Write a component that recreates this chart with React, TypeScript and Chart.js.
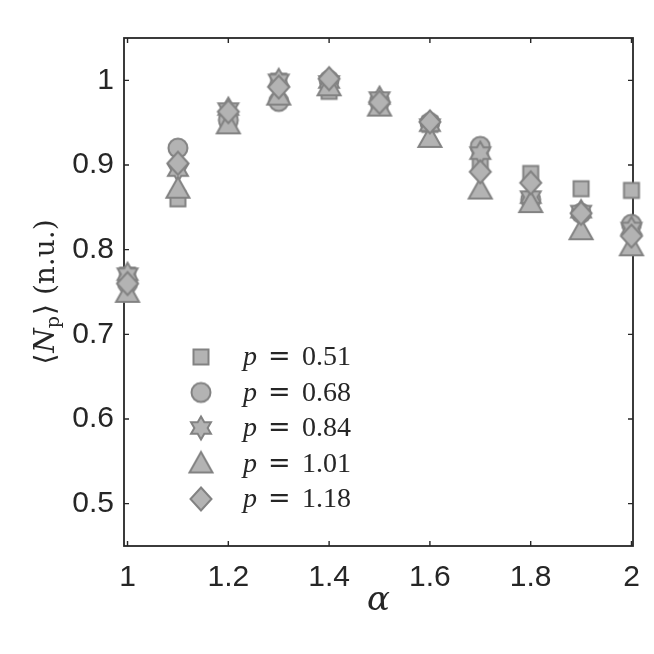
import React, { useEffect, useRef } from 'react';
import { Chart, registerables } from 'chart.js';

Chart.register(...registerables);

// ---- data ----
const alpha = [1.0, 1.1, 1.2, 1.3, 1.4, 1.5, 1.6, 1.7, 1.8, 1.9, 2.0];
const seriesLabels = ['0.51', '0.68', '0.84', '1.01', '1.18'];
const p051 = [0.770, 0.860, 0.955, 0.999, 0.987, 0.975, 0.948, 0.905, 0.890, 0.872, 0.870];
const p068 = [0.760, 0.920, 0.953, 0.975, 1.000, 0.975, 0.950, 0.922, 0.859, 0.843, 0.830];
const p084 = [0.771, 0.894, 0.966, 1.000, 0.998, 0.979, 0.947, 0.914, 0.862, 0.845, 0.825];
const p101 = [0.749, 0.872, 0.948, 0.982, 0.993, 0.969, 0.932, 0.871, 0.855, 0.823, 0.804];
const p118 = [0.760, 0.902, 0.963, 0.992, 1.002, 0.974, 0.951, 0.892, 0.879, 0.843, 0.816];
const markerKinds = ['square', 'circle', 'hexagram', 'triangle', 'diamond'];
const xTicks = [1, 1.2, 1.4, 1.6, 1.8, 2];
const xTickLabels = ['1', '1.2', '1.4', '1.6', '1.8', '2'];
const yTicks = [0.5, 0.6, 0.7, 0.8, 0.9, 1.0];
const yTickLabels = ['0.5', '0.6', '0.7', '0.8', '0.9', '1'];

const FILL = '#b3b3b3';
const EDGE = '#828282';
const AXIS = '#262626';
const TICK_FONT = '"Liberation Sans", Arial, sans-serif';
const SERIF = '"Liberation Serif", "DejaVu Serif", serif';
const WIDE_SERIF = '"DejaVu Serif", serif';

function makeMarker(kind: string): HTMLCanvasElement {
  const c = document.createElement('canvas');
  c.width = 32;
  c.height = 32;
  const ctx = c.getContext('2d')!;
  ctx.translate(16, 16);
  ctx.beginPath();
  if (kind === 'square') {
    ctx.rect(-7.5, -7.5, 15, 15);
  } else if (kind === 'circle') {
    ctx.arc(0, 0, 9.5, 0, Math.PI * 2);
  } else if (kind === 'hexagram') {
    const R = 11.5;
    const r = R / Math.sqrt(3);
    for (let i = 0; i < 12; i++) {
      const a = -Math.PI / 2 + (i * Math.PI) / 6;
      const rr = i % 2 === 0 ? R : r;
      const px = Math.cos(a) * rr;
      const py = Math.sin(a) * rr;
      if (i === 0) ctx.moveTo(px, py);
      else ctx.lineTo(px, py);
    }
    ctx.closePath();
  } else if (kind === 'triangle') {
    ctx.moveTo(0, -11.5);
    ctx.lineTo(11.5, 9);
    ctx.lineTo(-11.5, 9);
    ctx.closePath();
  } else if (kind === 'diamond') {
    ctx.moveTo(0, -11.5);
    ctx.lineTo(10.5, 0);
    ctx.lineTo(0, 11.5);
    ctx.lineTo(-10.5, 0);
    ctx.closePath();
  }
  ctx.fillStyle = FILL;
  ctx.fill();
  ctx.lineWidth = 2;
  ctx.strokeStyle = EDGE;
  ctx.lineJoin = 'miter';
  ctx.stroke();
  return c;
}

export default function App() {
  const ref = useRef<HTMLCanvasElement | null>(null);

  useEffect(() => {
    document.body.style.margin = '0';
    const canvas = ref.current!;
    const markers = markerKinds.map(makeMarker);
    const allSeries = [p051, p068, p084, p101, p118];

    const datasets = allSeries.map((vals, i) => ({
      label: 'p = ' + seriesLabels[i],
      data: alpha.map((x, j) => ({ x, y: vals[j] })),
      pointStyle: markers[i] as any,
      pointRadius: 12,
      showLine: false,
      order: allSeries.length - i,
      clip: false as any,
    }));

    const framePlugin = {
      id: 'frame',
      beforeDatasetsDraw(chart: any) {
        const { ctx, chartArea } = chart;
        const { left, top, right, bottom } = chartArea;
        const xs = chart.scales.x;
        const ys = chart.scales.y;
        ctx.save();
        ctx.strokeStyle = AXIS;
        ctx.lineWidth = 1.8;
        ctx.strokeRect(left, top, right - left, bottom - top);
        ctx.lineWidth = 1.4;
        ctx.beginPath();
        const tl = 5;
        xTicks.forEach((v) => {
          const px = xs.getPixelForValue(v);
          ctx.moveTo(px, bottom);
          ctx.lineTo(px, bottom - tl);
          ctx.moveTo(px, top);
          ctx.lineTo(px, top + tl);
        });
        yTicks.forEach((v) => {
          const py = ys.getPixelForValue(v);
          ctx.moveTo(left, py);
          ctx.lineTo(left + tl, py);
          ctx.moveTo(right, py);
          ctx.lineTo(right - tl, py);
        });
        ctx.stroke();
        ctx.restore();
      },
      afterDraw(chart: any) {
        const { ctx, chartArea } = chart;
        ctx.save();
        ctx.fillStyle = AXIS;
        // y title
        const cy = (chartArea.top + chartArea.bottom) / 2;
        ctx.translate(44, cy);
        ctx.rotate(-Math.PI / 2);
        const parts = [
          { t: '\u27E8', f: '28px ' + WIDE_SERIF, dy: 0, gap: 1 },
          { t: 'N', f: 'italic 28px ' + WIDE_SERIF, dy: 0, gap: 0 },
          { t: 'p', f: '19px ' + WIDE_SERIF, dy: 5, gap: 1 },
          { t: '\u27E9', f: '28px ' + WIDE_SERIF, dy: 0, gap: 9 },
          { t: '(n.u.)', f: '28px ' + WIDE_SERIF, dy: 0, gap: 0 },
        ];
        let total = 0;
        parts.forEach((p) => {
          ctx.font = p.f;
          total += ctx.measureText(p.t).width + p.gap;
        });
        let cx = -total / 2;
        ctx.textBaseline = 'alphabetic';
        ctx.textAlign = 'left';
        parts.forEach((p) => {
          ctx.font = p.f;
          ctx.fillText(p.t, cx, 10 + p.dy);
          cx += ctx.measureText(p.t).width + p.gap;
        });
        ctx.restore();

        // x title
        ctx.save();
        ctx.fillStyle = AXIS;
        ctx.font = 'italic 34px ' + WIDE_SERIF;
        ctx.textAlign = 'center';
        ctx.textBaseline = 'alphabetic';
        ctx.fillText('\u03B1', (chartArea.left + chartArea.right) / 2, 610);
        ctx.restore();

        // legend
        ctx.save();
        ctx.fillStyle = AXIS;
        ctx.textBaseline = 'alphabetic';
        const rowY = [357, 392.5, 428, 463.5, 499];
        seriesLabels.forEach((lab, i) => {
          const y = rowY[i];
          ctx.drawImage(markers[i], 201 - 16, y - 16);
          ctx.textAlign = 'left';
          ctx.font = 'italic 28px ' + SERIF;
          ctx.fillText('p', 243, y + 8);
          ctx.font = '27px ' + WIDE_SERIF;
          ctx.fillText('=', 268, y + 8);
          ctx.font = '28px ' + SERIF;
          ctx.fillText(lab, 302, y + 8);
        });
        ctx.restore();
      },
    };

    const chart = new Chart(canvas, {
      type: 'scatter',
      data: { datasets: datasets as any },
      options: {
        animation: false,
        responsive: false,
        devicePixelRatio: 1,
        layout: { padding: { top: 38, right: 21, left: 0, bottom: 0 } },
        plugins: { legend: { display: false }, tooltip: { enabled: false } },
        scales: {
          x: {
            type: 'linear',
            min: 0.993,
            max: 2.003,
            afterBuildTicks: (s: any) => {
              s.ticks = xTicks.map((v) => ({ value: v }));
            },
            afterFit: (s: any) => {
              s.height = 108;
            },
            grid: { display: false, drawTicks: false },
            border: { display: false },
            ticks: {
              autoSkip: false,
              maxRotation: 0,
              padding: 14,
              color: AXIS,
              font: { family: TICK_FONT, size: 30 },
              callback: (_v: any, i: number) => xTickLabels[i],
            },
          },
          y: {
            type: 'linear',
            min: 0.45,
            max: 1.05,
            afterBuildTicks: (s: any) => {
              s.ticks = yTicks.map((v) => ({ value: v }));
            },
            afterFit: (s: any) => {
              s.width = 124;
            },
            grid: { display: false, drawTicks: false },
            border: { display: false },
            ticks: {
              autoSkip: false,
              padding: 10,
              color: AXIS,
              font: { family: TICK_FONT, size: 30 },
              callback: (_v: any, i: number) => yTickLabels[i],
            },
          },
        },
      },
      plugins: [framePlugin],
    });
    return () => chart.destroy();
  }, []);

  return (
    <div style={{ position: 'fixed', left: 0, top: 0, width: 654, height: 654, background: '#fff' }}>
      <canvas ref={ref} width={654} height={654} style={{ width: 654, height: 654 }} />
    </div>
  );
}
